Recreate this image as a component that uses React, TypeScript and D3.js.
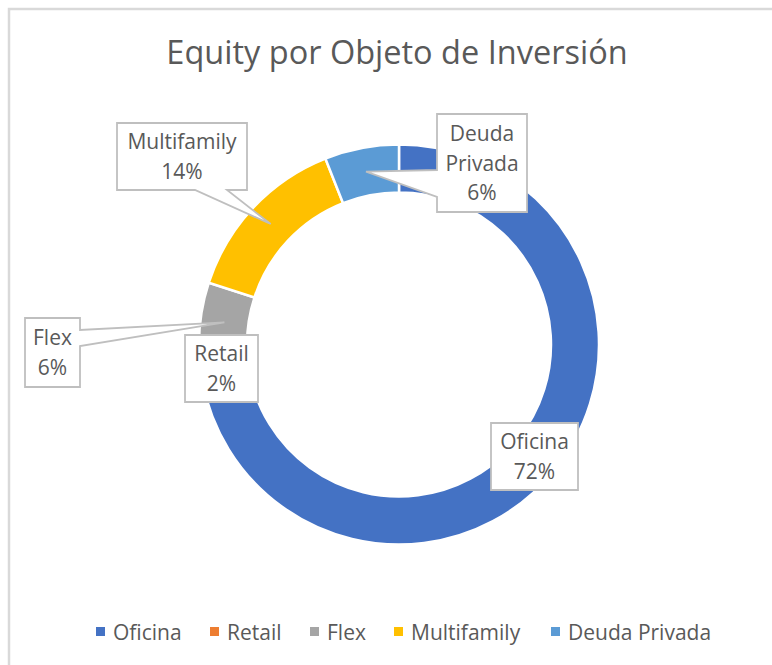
import React from "react";
import * as d3 from "d3";

const categories = ["Oficina", "Retail", "Flex", "Multifamily", "Deuda Privada"];
const values = [72, 2, 6, 14, 6];
const colors = ["#4472C4", "#ED7D31", "#A5A5A5", "#FFC000", "#5B9BD5"];
const labelLines = [["Oficina"], ["Retail"], ["Flex"], ["Multifamily"], ["Deuda", "Privada"]];
const title = "Equity por Objeto de Inversión";

const W = 772;
const H = 665;
const cx = 399;
const cy = 344.5;
const rOuter = 200;
const rInner = 152;
const FONT = "'Open Sans', 'Noto Sans', sans-serif";
const TXT = "#595959";

// label box layout: x, y, w, h, callout side and base offsets
type Box = { x: number; y: number; w: number; h: number; side?: string; a?: number; b?: number };
const boxes: Box[] = [
  { x: 491, y: 423, w: 87, h: 67 },
  { x: 185, y: 335, w: 73, h: 67 },
  { x: 25, y: 318, w: 55, h: 69, side: "right", a: 330, b: 346 },
  { x: 117, y: 123, w: 130, h: 67, side: "bottom", a: 195, b: 227 },
  { x: 437, y: 114, w: 90, h: 98, side: "left", a: 170, b: 197 },
];
const legendX = [96, 210, 310, 394, 551];

function calloutPath(bx: Box, tip: [number, number]) {
  const x0 = bx.x, y0 = bx.y, x1 = bx.x + bx.w, y1 = bx.y + bx.h;
  const p = d3.path();
  if (bx.side === "left") {
    p.moveTo(x0, y0); p.lineTo(x1, y0); p.lineTo(x1, y1); p.lineTo(x0, y1);
    p.lineTo(x0, bx.b!); p.lineTo(tip[0], tip[1]); p.lineTo(x0, bx.a!); p.closePath();
  } else if (bx.side === "right") {
    p.moveTo(x0, y0); p.lineTo(x1, y0); p.lineTo(x1, bx.a!); p.lineTo(tip[0], tip[1]);
    p.lineTo(x1, bx.b!); p.lineTo(x1, y1); p.lineTo(x0, y1); p.closePath();
  } else if (bx.side === "bottom") {
    p.moveTo(x0, y0); p.lineTo(x1, y0); p.lineTo(x1, y1); p.lineTo(bx.b!, y1);
    p.lineTo(tip[0], tip[1]); p.lineTo(bx.a!, y1); p.lineTo(x0, y1); p.closePath();
  } else {
    p.rect(x0, y0, bx.w, bx.h);
  }
  return p.toString();
}

export default function App() {
  const total = d3.sum(values);
  const pie = d3.pie<number>().sort(null).value((d) => d);
  const arcs = pie(values);
  const arc = d3.arc<d3.PieArcDatum<number>>().innerRadius(rInner).outerRadius(rOuter);
  const fmt = (v: number) => `${Math.round((v / total) * 100)}%`;
  const lineH = 29.5;

  return (
    <svg width={W} height={H} style={{ position: "absolute", left: 0, top: 0, background: "#fff" }}>
      <rect x={0} y={0} width={W} height={H} fill="#fff" />
      <path d={`M9,${H} L9,9 L${W},9`} fill="none" stroke="#D9D9D9" strokeWidth={2.5} />
      <text x={397} y={64} textAnchor="middle" fontFamily={FONT} fontSize={32.5} fill={TXT}>
        {title}
      </text>
      <g transform={`translate(${cx},${cy})`}>
        {arcs.map((a, i) => (
          <path key={i} d={arc(a) || ""} fill={colors[i]} stroke="#fff" strokeWidth={2.5} />
        ))}
      </g>
      {arcs.map((a, i) => {
        const c = arc.centroid(a);
        const tip: [number, number] = [cx + c[0], cy + c[1]];
        const bx = boxes[i];
        const lines = [...labelLines[i], fmt(values[i])];
        const mid = bx.y + bx.h / 2;
        const start = mid - ((lines.length - 1) * lineH) / 2;
        return (
          <g key={i}>
            <path d={calloutPath(bx, tip)} fill="#fff" stroke="#BFBFBF" strokeWidth={1.8} strokeLinejoin="miter" />
            {lines.map((l, j) => (
              <text
                key={j}
                x={bx.x + bx.w / 2}
                y={start + j * lineH}
                dy="0.36em"
                textAnchor="middle"
                fontFamily={FONT}
                fontSize={21}
                fill={TXT}
              >
                {l}
              </text>
            ))}
          </g>
        );
      })}
      {categories.map((c, i) => (
        <g key={c}>
          <rect x={legendX[i]} y={627} width={9} height={9} fill={colors[i]} />
          <text x={legendX[i] + 17} y={632} dy="0.36em" fontFamily={FONT} fontSize={21} fill={TXT}>
            {c}
          </text>
        </g>
      ))}
    </svg>
  );
}
